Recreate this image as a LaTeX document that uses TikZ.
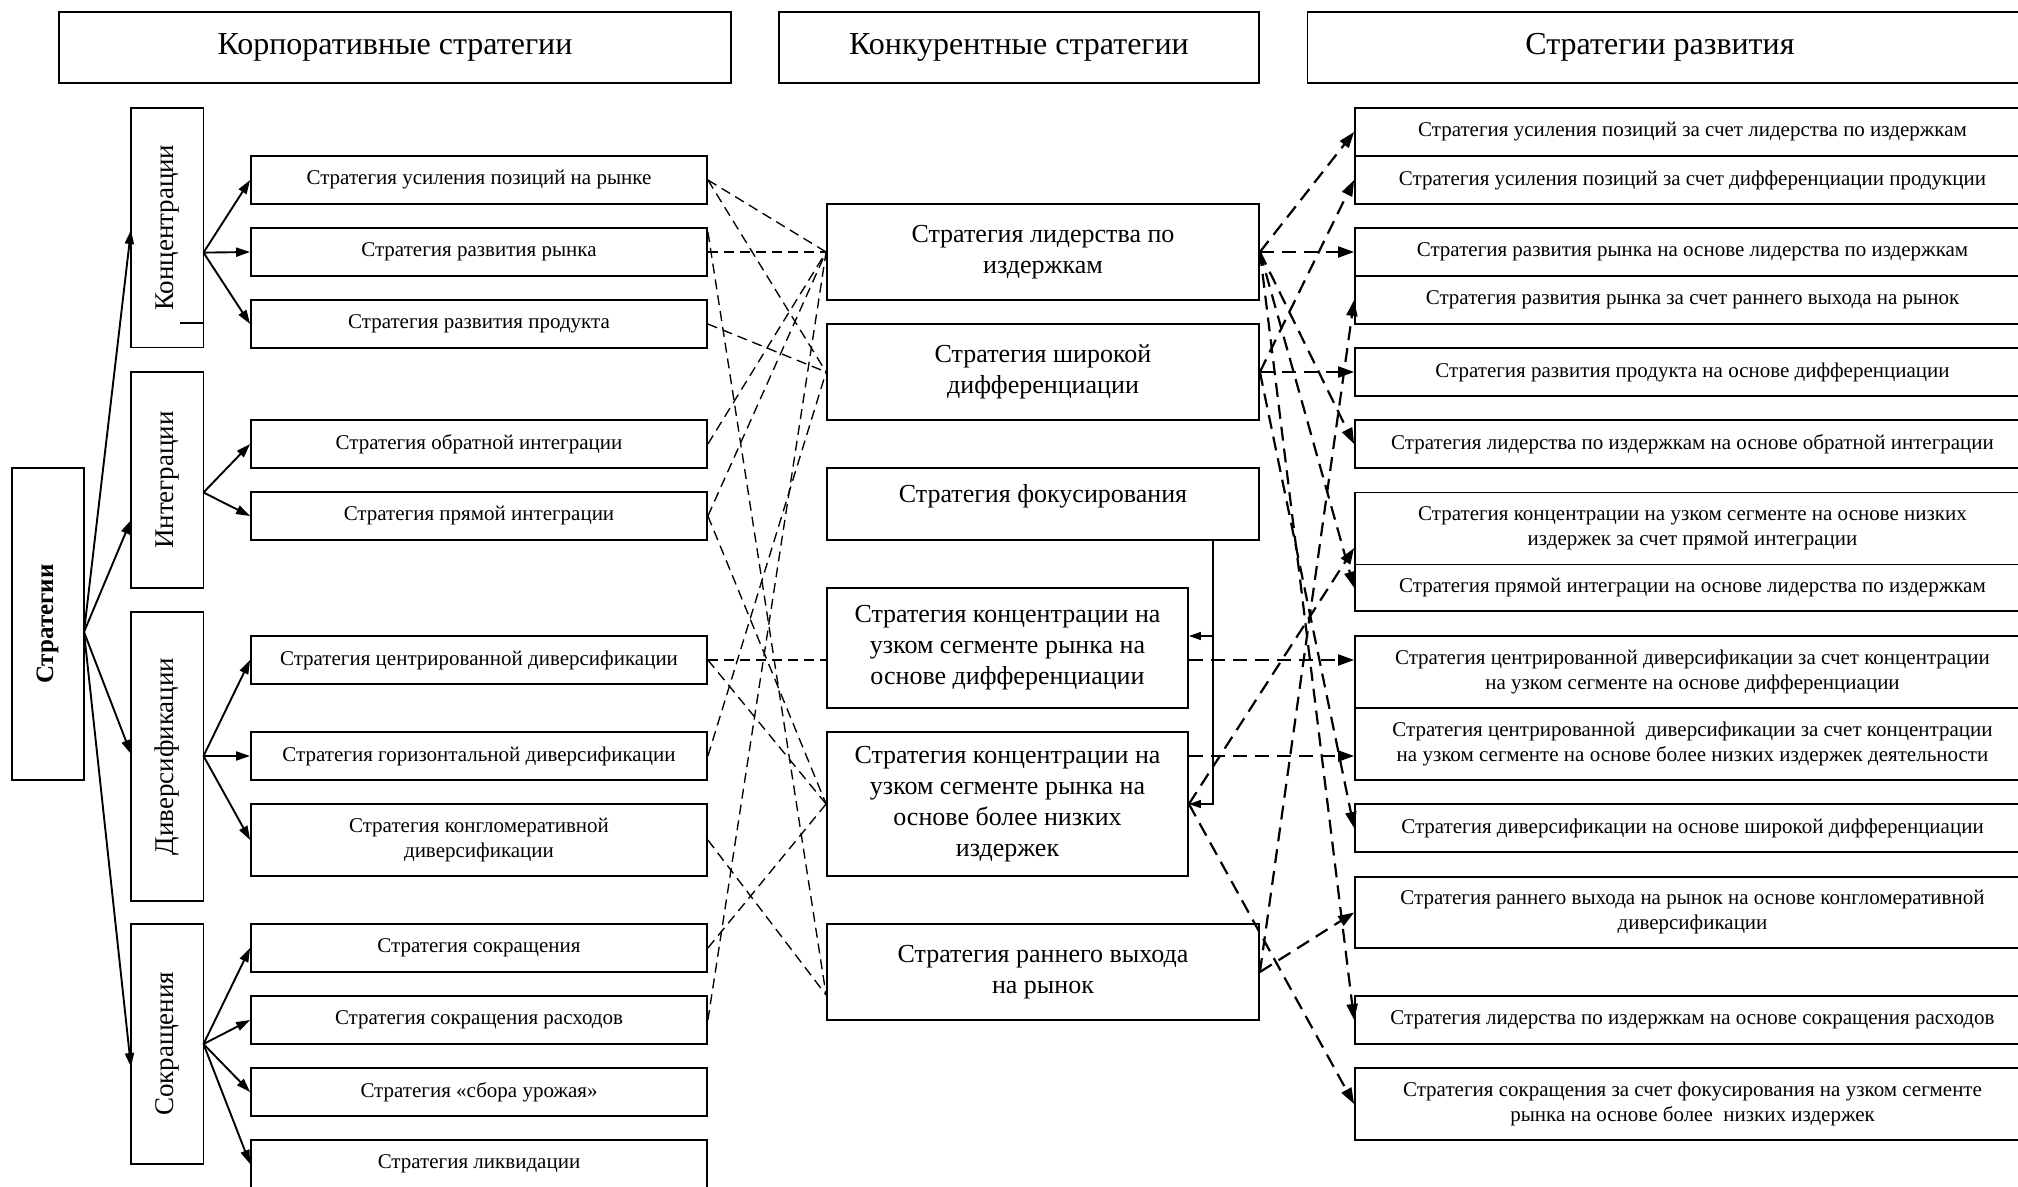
\documentclass[tikz,border=0pt]{standalone}
\usepackage{fontspec}
\setmainfont{Liberation Serif}
\usetikzlibrary{arrows.meta,calc}
\begin{document}
\begin{tikzpicture}[x=1pt,y=-1pt,
  bx/.style={draw,line width=1.8pt,inner sep=2pt,align=center},
  hdr/.style={bx,minimum height=71pt,font=\fontsize{32}{38}\selectfont},
  grp/.style={bx,rotate=90,minimum height=72.5pt,font=\fontsize{27}{32}\selectfont},
  sm/.style={bx,font=\fontsize{21}{25}\selectfont},
  lb/.style={sm,minimum width=456pt,minimum height=48pt},
  rb/.style={sm,minimum width=675pt,minimum height=48pt},
  cb/.style={bx,font=\fontsize{26}{31}\selectfont},
  tree/.style={line width=1.9pt,-{Triangle[length=14pt,width=9pt]}},
  solidarr/.style={line width=1.4pt,-{Triangle[length=12pt,width=8pt]}},
  thinln/.style={line width=1.35pt,dash pattern=on 10pt off 6pt},
  thickln/.style={line width=2.2pt,dash pattern=on 14pt off 8pt,-{Triangle[length=16pt,width=11pt]}},
]
\useasboundingbox (0,0) rectangle (2018,1186);
\fill[white] (0,0) rectangle (2018,1186);
\clip (0,0) rectangle (2018,1186);

% headers
\node[hdr,minimum width=672pt] (h1) at (395,47.5) {Корпоративные стратегии};
\node[hdr,minimum width=480pt] (h2) at (1019,47.5) {Конкурентные стратегии};
\node[hdr,minimum width=722.5pt] (h3) at (1668.75,47.5) {\hspace*{-17.5pt}Стратегии развития};

% root and groups
\node[bx,rotate=90,minimum width=312pt,minimum height=72pt,font=\fontsize{25}{30}\selectfont\bfseries] (s) at (47.6,624) {Стратегии};
\node[grp,minimum width=239.5pt] (g1) at (167.25,227.75) {Концентрации};
\node[grp,minimum width=216pt] (g2) at (167.25,480) {Интеграции};
\node[grp,minimum width=289pt] (g3) at (167.25,756.5) {Диверсификации};
\node[grp,minimum width=239.6pt] (g4) at (167.25,1043.8) {Сокращения};
\draw[line width=1.4pt] (180,323) -- (203.5,323);

% left boxes
\node[lb] (l1) at (479,180) {Стратегия усиления позиций на рынке};
\node[lb] (l2) at (479,252) {Стратегия развития рынка};
\node[lb] (l3) at (479,324) {Стратегия развития продукта};
\node[lb] (l4) at (479,444) {Стратегия обратной интеграции};
\node[lb] (l5) at (479,516) {Стратегия прямой интеграции};
\node[lb] (l6) at (479,660) {Стратегия центрированной диверсификации};
\node[lb] (l7) at (479,756) {Стратегия горизонтальной диверсификации};
\node[lb,minimum height=72pt] (l8) at (479,840) {Стратегия конгломеративной\\диверсификации};
\node[lb] (l9) at (479,948) {Стратегия сокращения};
\node[lb] (l10) at (479,1020) {Стратегия сокращения расходов};
\node[lb] (l11) at (479,1092) {Стратегия «сбора урожая»};
\node[lb] (l12) at (479,1164) {Стратегия ликвидации};

% center boxes
\node[cb,minimum width=432pt,minimum height=96pt] (c1) at (1043,252) {Стратегия лидерства по\\издержкам};
\node[cb,minimum width=432pt,minimum height=96pt] (c2) at (1043,372) {Стратегия широкой\\дифференциации};
\node[cb,minimum width=432pt,minimum height=72pt,text depth=22pt] (c3) at (1043,504) {Стратегия фокусирования};
\node[cb,minimum width=361pt,minimum height=120pt] (c4) at (1007.5,648) {Стратегия концентрации на\\узком сегменте рынка на\\основе дифференциации};
\node[cb,minimum width=361pt,minimum height=144pt] (c5) at (1007.5,804) {Стратегия концентрации на\\узком сегменте рынка на\\основе более низких\\издержек};
\node[cb,minimum width=432pt,minimum height=96pt] (c6) at (1043,972) {Стратегия раннего выхода\\на рынок};

% right boxes
\node[rb] (r1) at (1692.5,132) {Стратегия усиления позиций за счет лидерства по издержкам};
\node[rb] (r2) at (1692.5,180) {Стратегия усиления позиций за счет дифференциации продукции};
\node[rb] (r3) at (1692.5,252) {Стратегия развития рынка на основе лидерства по издержкам};
\node[rb] (r4) at (1692.5,300) {Стратегия развития рынка за счет раннего выхода на рынок};
\node[rb] (r5) at (1692.5,372) {Стратегия развития продукта на основе дифференциации};
\node[rb] (r6) at (1692.5,444) {Стратегия лидерства по издержкам на основе обратной интеграции};
\node[rb,minimum height=72pt] (r7) at (1692.5,528.5) {Стратегия концентрации на узком сегменте на основе низких\\издержек за счет прямой интеграции};
\node[rb,minimum height=46.5pt] (r8) at (1692.5,587.75) {Стратегия прямой интеграции на основе лидерства по издержкам};
\node[rb,minimum height=72pt] (r9) at (1692.5,672) {Стратегия центрированной диверсификации за счет концентрации\\на узком сегменте на основе дифференциации};
\node[rb,minimum height=72pt] (r10) at (1692.5,744) {Стратегия центрированной\ \ диверсификации за счет концентрации\\на узком сегменте на основе более низких издержек деятельности};
\node[rb] (r11) at (1692.5,828) {Стратегия диверсификации на основе широкой дифференциации};
\node[rb,minimum height=71pt] (r12) at (1692.5,912.5) {Стратегия раннего выхода на рынок на основе конгломеративной\\диверсификации};
\node[rb] (r13) at (1692.5,1020) {Стратегия лидерства по издержкам на основе сокращения расходов};
\node[rb,minimum height=72pt] (r14) at (1692.5,1104) {Стратегия сокращения за счет фокусирования на узком сегменте\\рынка на основе более\ \ низких издержек};

% tree coordinates
\coordinate (so) at (84,632);
\coordinate (t1) at (131,230);
\coordinate (t2) at (131,520);
\coordinate (t3) at (131,754);
\coordinate (t4) at (131,1067);
\coordinate (gp1) at (203.5,252.6);
\coordinate (gp2) at (203.5,492.5);
\coordinate (gp3) at (203.5,756);
\coordinate (gp4) at (203.5,1044);

\draw[tree] (so) -- (t1);
\draw[tree] (so) -- (t2);
\draw[tree] (so) -- (t3);
\draw[tree] (so) -- (t4);
\foreach \t in {l1,l2,l3} \draw[tree] (gp1) -- (\t.west);
\foreach \t in {l4,l5} \draw[tree] (gp2) -- (\t.west);
\foreach \t in {l6,l7,l8} \draw[tree] (gp3) -- (\t.west);
\foreach \t in {l9,l10,l11,l12} \draw[tree] (gp4) -- (\t.west);

% left -> center dashed
\coordinate (l2a) at ([yshift=20pt]l2.east);
\coordinate (c6a) at ([yshift=-23pt]c6.west);
\coordinate (c4w) at ([yshift=-12pt]c4.west);
\draw[thinln] (l1.east) -- (c1.west);
\draw[thinln] (l1.east) -- (c2.west);
\draw[thinln] (l2.east) -- (c1.west);
\draw[thinln] (l2a) -- (c6a);
\draw[thinln] (l3.east) -- (c2.west);
\draw[thinln] (l4.east) -- (c1.west);
\draw[thinln] (l5.east) -- (c1.west);
\draw[thinln] (l5.east) -- (c5.west);
\draw[thinln] (l6.east) -- (c4w);
\draw[thinln] (l6.east) -- (c5.west);
\draw[thinln] (l7.east) -- (c2.west);
\draw[thinln] (l8.east) -- (c6a);
\draw[thinln] (l9.east) -- (c5.west);
\draw[thinln] (l10.east) -- (c1.west);

% focusing connector
\coordinate (f0) at ([xshift=170pt]c3.south);
\coordinate (c4a) at ([yshift=12pt]c4.east);
\draw[solidarr] (f0) -- (f0 |- c5.east) -- (c5.east);
\draw[solidarr] (f0 |- c4a) -- (c4a);

% center -> right dashed arrows
\coordinate (c4e) at ([yshift=-12pt]c4.east);
\coordinate (r9a) at ([yshift=12pt]r9.west);
\coordinate (c5b) at ([yshift=48pt]c5.east);
\coordinate (r10a) at ([yshift=-12pt]r10.west);
\coordinate (r7a) at ([yshift=-19.5pt]r7.west);
\draw[thickln] (c1.east) -- (r1.west);
\draw[thickln] (c1.east) -- (r3.west);
\draw[thickln] (c1.east) -- (r6.west);
\draw[thickln] (c1.east) -- (r8.west);
\draw[thickln] (c1.east) -- (r13.west);
\draw[thickln] (c2.east) -- (r2.west);
\draw[thickln] (c2.east) -- (r5.west);
\draw[thickln] (c2.east) -- (r11.west);
\draw[thickln] (c4e) -- (r9a);
\draw[thickln] (c5b) -- (r10a);
\draw[thickln] (c5.east) -- (r7a);
\draw[thickln] (c5.east) -- (r14.west);
\draw[thickln] (c6.east) -- (r4.west);
\draw[thickln] (c6.east) -- (r12.west);
\end{tikzpicture}
\end{document}
